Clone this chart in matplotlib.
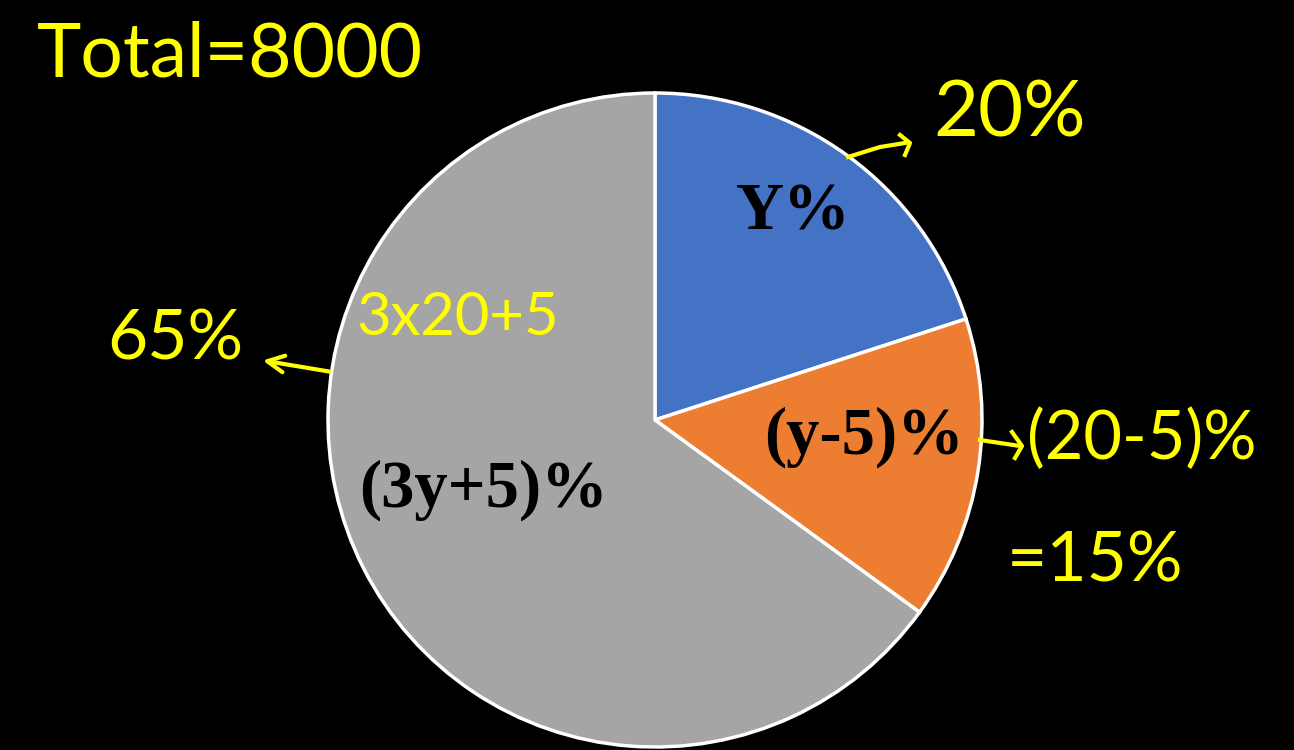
import matplotlib.pyplot as plt

# pie data
labels = ["Y%", "(y-5)%", "(3y+5)%"]
shares = [20, 15, 65]
colors = ["#4472C4", "#ED7D31", "#A5A5A5"]

# handwritten notes (text, x, y, size) in pixel coords from the top-left
notes = [("Total=8000", 230, 55, 54),
         ("20%", 1010, 115, 56),
         ("3x20+5", 458, 318, 43),
         ("65%", 175, 340, 50),
         ("(20-5)%", 1142, 440, 48),
         ("=15%", 1095, 562, 50)]

W, H = 1294, 750
fig = plt.figure(figsize=(12.94, 7.5), dpi=100, facecolor="black")
ax = fig.add_axes([0, 0, 1, 1])
ax.set_facecolor("black")

wedges, _ = ax.pie(shares, colors=colors, startangle=90, counterclock=False,
                   center=(655, H - 420), radius=327, frame=True,
                   wedgeprops=dict(edgecolor="white", linewidth=2.5))

# slice labels
label_pos = [(793, 213), (864, 437), (484, 490)]
for txt, (x, y) in zip(labels, label_pos):
    ax.text(x, H - y, txt, ha="center", va="center", fontsize=48,
            fontweight="bold", family="Liberation Serif", color="black")

yel = "#FFFF00"
for txt, x, y, s in notes:
    ax.text(x, H - y, txt, ha="center", va="center", fontsize=s,
            family="Lato", color=yel)

# arrows / strokes
ax.plot([848, 880, 905], [H - 157, H - 147, H - 143], color=yel, lw=3)
ax.plot([900, 910, 905], [H - 135, H - 143, H - 155], color=yel, lw=3)
ax.annotate("", xy=(260, H - 360), xytext=(332, H - 372),
            arrowprops=dict(arrowstyle="->", color=yel, lw=3, mutation_scale=30))
ax.plot([980, 1000, 1020], [H - 440, H - 443, H - 446], color=yel, lw=3)
ax.plot([1012, 1022, 1015], [H - 432, H - 446, H - 458], color=yel, lw=3)

ax.set_xlim(0, W)
ax.set_ylim(0, H)
ax.axis("off")
fig.savefig("out.png", dpi=100, facecolor="black")
